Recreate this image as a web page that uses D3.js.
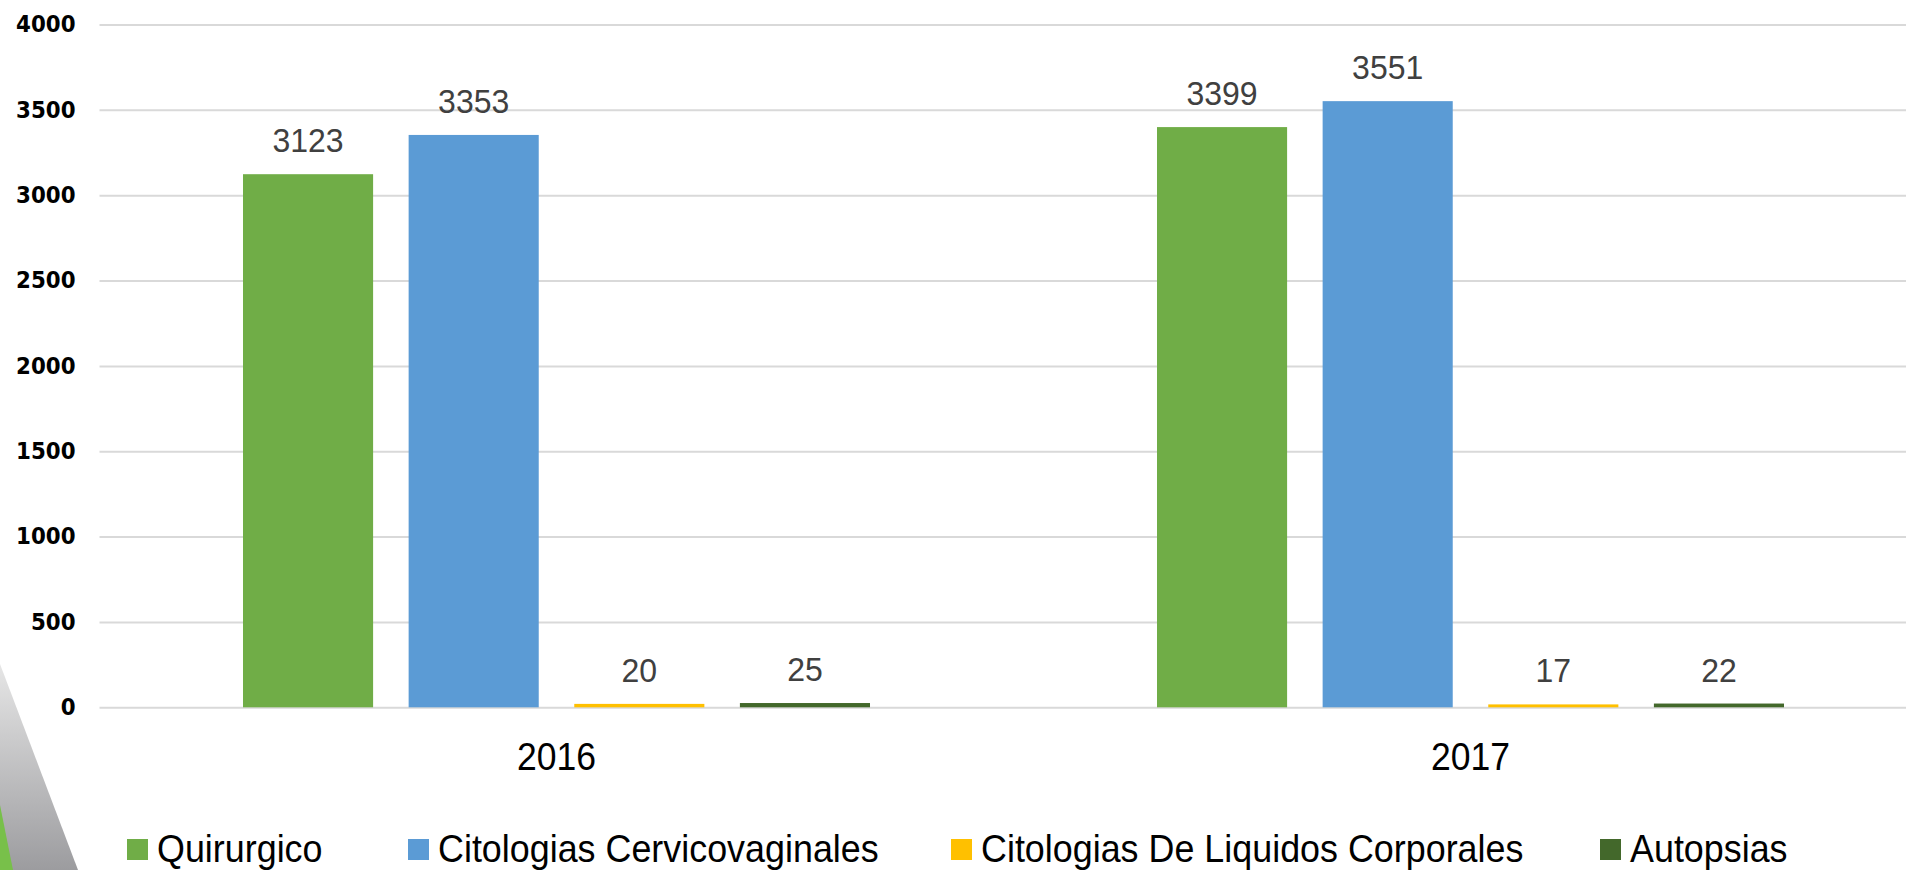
<!DOCTYPE html>
<html lang="en">
<head>
  <meta charset="UTF-8">
  <title>Estudios 2016 - 2017</title>
  <style>
    body { margin: 0; background: #fff; }
    svg { display: block; }
  </style>
</head>
<body>
  <script src="https://d3js.org/d3.v7.min.js"></script>
  <svg id="chart" width="1906" height="870"></svg>
  <script>
    // data
    const years = ["2016", "2017"];
    const series = ["Quirurgico", "Citologias Cervicovaginales", "Citologias De Liquidos Corporales", "Autopsias"];
    const quirurgico = [3123, 3399];
    const cervicovaginales = [3353, 3551];
    const liquidos = [20, 17];
    const autopsias = [25, 22];
    const yTicks = [0, 500, 1000, 1500, 2000, 2500, 3000, 3500, 4000];
    const colors = ["#70ad47", "#5b9bd5", "#ffc000", "#43682b"];

    const values = [quirurgico, cervicovaginales, liquidos, autopsias];

    const svg = d3.select("svg#chart");
    const W = 1906;

    // decoration in the lower left corner
    const defs = svg.append("defs");
    const grad = defs.append("linearGradient").attr("id", "greyfade")
      .attr("x1", 0).attr("y1", 0).attr("x2", 0).attr("y2", 1);
    grad.append("stop").attr("offset", "0%").attr("stop-color", "#e6e6e6");
    grad.append("stop").attr("offset", "100%").attr("stop-color", "#9c9c9f");
    svg.append("polygon").attr("points", "0,664 78,870 0,870").attr("fill", "url(#greyfade)");
    svg.append("polygon").attr("points", "0,805 13,870 0,870").attr("fill", "#78c04a");

    const left = 99.5;
    const y = d3.scaleLinear().domain([0, 4000]).range([707.3, 24.5]);

    const x0 = d3.scaleBand()
      .domain(years)
      .range([left, left + 2 * 914])
      .paddingInner(0.314)
      .paddingOuter(0.157);

    const x1 = d3.scaleBand()
      .domain(series)
      .range([0, x0.bandwidth()])
      .paddingInner(0.2145)
      .paddingOuter(0);

    // y axis with gridlines
    const yAxis = svg.append("g")
      .attr("transform", "translate(" + left + ",0)")
      .call(d3.axisLeft(y).tickValues(yTicks).tickFormat(d3.format("d"))
        .tickSize(-(W - left)).tickPadding(24));
    yAxis.select(".domain").remove();
    yAxis.selectAll(".tick line").attr("stroke", "#d9d9d9").attr("stroke-width", 2);
    yAxis.selectAll(".tick text")
      .attr("font-family", "DejaVu Sans")
      .attr("font-weight", "bold")
      .attr("font-size", 23)
      .attr("fill", "#000")
      .attr("x", -24 / 0.93)
      .attr("transform", "scale(0.93,1)");

    // bars
    const groups = svg.append("g").selectAll("g")
      .data(years)
      .join("g")
      .attr("transform", d => "translate(" + x0(d) + ",0)");

    groups.selectAll("rect")
      .data((d, i) => series.map((s, j) => ({ s: s, v: values[j][i], c: colors[j] })))
      .join("rect")
      .attr("x", d => x1(d.s))
      .attr("y", d => y(d.v))
      .attr("width", x1.bandwidth())
      .attr("height", d => y(0) - y(d.v))
      .attr("fill", d => d.c);

    // value labels
    groups.selectAll("text.val")
      .data((d, i) => series.map((s, j) => ({ s: s, v: values[j][i] })))
      .join("text")
      .attr("class", "val")
      .attr("transform", d => "translate(" + (x1(d.s) + x1.bandwidth() / 2) + "," + (y(d.v) - 22) + ") scale(0.97,1)")
      .attr("text-anchor", "middle")
      .attr("font-family", "Liberation Sans")
      .attr("font-size", 33)
      .attr("fill", "#404040")
      .text(d => d.v);

    // x axis (category labels)
    const xAxis = svg.append("g")
      .attr("transform", "translate(0," + y(0) + ")")
      .call(d3.axisBottom(x0).tickSize(0));
    xAxis.select(".domain").remove();
    xAxis.selectAll(".tick text")
      .attr("font-family", "Liberation Sans")
      .attr("font-size", 38)
      .attr("fill", "#000")
      .attr("y", 63)
      .attr("dy", 0)
      .attr("transform", "scale(0.935,1)");

    // legend, item starts as in the picture
    const legendX = [127, 408, 951, 1600];
    const legend = svg.append("g");
    series.forEach((s, j) => {
      legend.append("rect")
        .attr("x", legendX[j]).attr("y", 839)
        .attr("width", 21).attr("height", 21)
        .attr("fill", colors[j]);
      legend.append("text")
        .attr("transform", "translate(" + (legendX[j] + 30) + ",862) scale(0.92,1)")
        .attr("font-family", "Liberation Sans")
        .attr("font-size", 39)
        .attr("fill", "#000")
        .text(s);
    });
  </script>
</body>
</html>
